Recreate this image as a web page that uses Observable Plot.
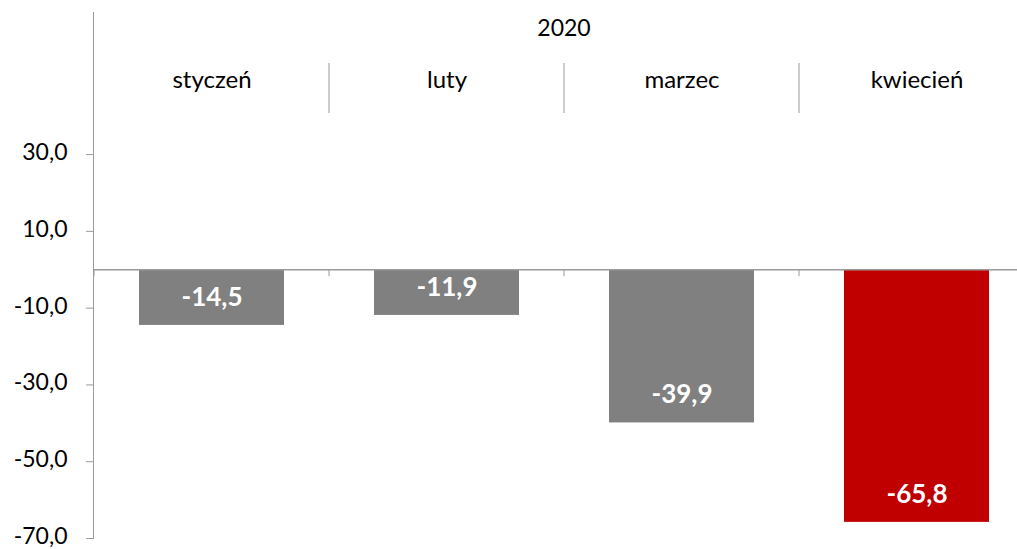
<!DOCTYPE html>
<html>
<head>
<meta charset="utf-8">
<script src="https://cdn.jsdelivr.net/npm/d3@7"></script>
<script src="https://cdn.jsdelivr.net/npm/@observablehq/plot@0.6"></script>
<style>
  html, body { margin: 0; padding: 0; background: #fff; }
  #chart svg { display: block; overflow: visible; }
</style>
</head>
<body>
<div id="chart"></div>
<script>
const year = "2020";
const months = ["styczeń", "luty", "marzec", "kwiecień"];
const values = [-14.5, -11.9, -39.9, -65.8];
const highlight = "kwiecień";
const yTicks = [30, 10, -10, -30, -50, -70];

const data = months.map((m, i) => ({month: m, value: values[i]}));
const fmt = v => v.toFixed(1).replace(".", ",");
const axisColor = "#9a9a9a";
const font = "Lato, 'Open Sans', sans-serif";

function headerGrid(index, scales, values, dims) {
  const x = scales.x, y = scales.y;
  const off = (x.step() - x.bandwidth()) / 2;
  const g = d3.create("svg:g").attr("stroke", axisColor).attr("stroke-width", 1);
  const bounds = months.map(m => x(m) - off);
  bounds.push(x(months[months.length - 1]) + x.bandwidth() + off);
  // dividers between month labels in the header
  bounds.slice(1, -1).forEach(b => {
    g.append("line").attr("x1", b).attr("x2", b)
      .attr("y1", dims.marginTop + 51).attr("y2", dims.marginTop + 101);
  });
  // category tick marks on the zero line
  const y0 = y(0);
  bounds.forEach(b => {
    g.append("line").attr("x1", b).attr("x2", b).attr("y1", y0).attr("y2", y0 + 7);
  });
  return g.node();
}

const chart = Plot.plot({
  width: 1017,
  height: 549,
  marginLeft: 93,
  marginRight: -17,
  marginTop: 12,
  marginBottom: 11,
  style: {fontFamily: font, background: "#fff", color: "#000"},
  x: {domain: months, paddingInner: 0.384, paddingOuter: 0.192, axis: null},
  y: {domain: [-70, 67]},
  marks: [
    Plot.barY(data, {
      x: "month", y: "value",
      fill: d => d.month === highlight ? "#C00000" : "#808080"
    }),
    Plot.ruleY([0], {stroke: axisColor, strokeWidth: 1.5}),
    Plot.frame({anchor: "left", stroke: axisColor}),
    Plot.axisY({
      ticks: yTicks, tickSize: 7, tickPadding: 19, tickFormat: null,
      text: null, stroke: axisColor, label: null
    }),
    Plot.text(yTicks, {
      y: d => d, text: fmt, frameAnchor: "left", textAnchor: "end",
      dx: -26, dy: -2, fontSize: 23, fill: "#000", lineAnchor: "middle"
    }),
    headerGrid,
    Plot.text([year], {frameAnchor: "top", dy: 16, fontSize: 23, fill: "#000", lineAnchor: "middle"}),
    Plot.text(months, {x: d => d, frameAnchor: "top", dy: 68, fontSize: 24, fill: "#000", lineAnchor: "middle"}),
    Plot.text(data, {
      x: "month", y: "value", text: d => fmt(d.value),
      dy: -28, fill: "#fff", fontWeight: "bold", fontSize: 26, lineAnchor: "middle"
    })
  ]
});
document.getElementById("chart").appendChild(chart);
</script>
</body>
</html>
